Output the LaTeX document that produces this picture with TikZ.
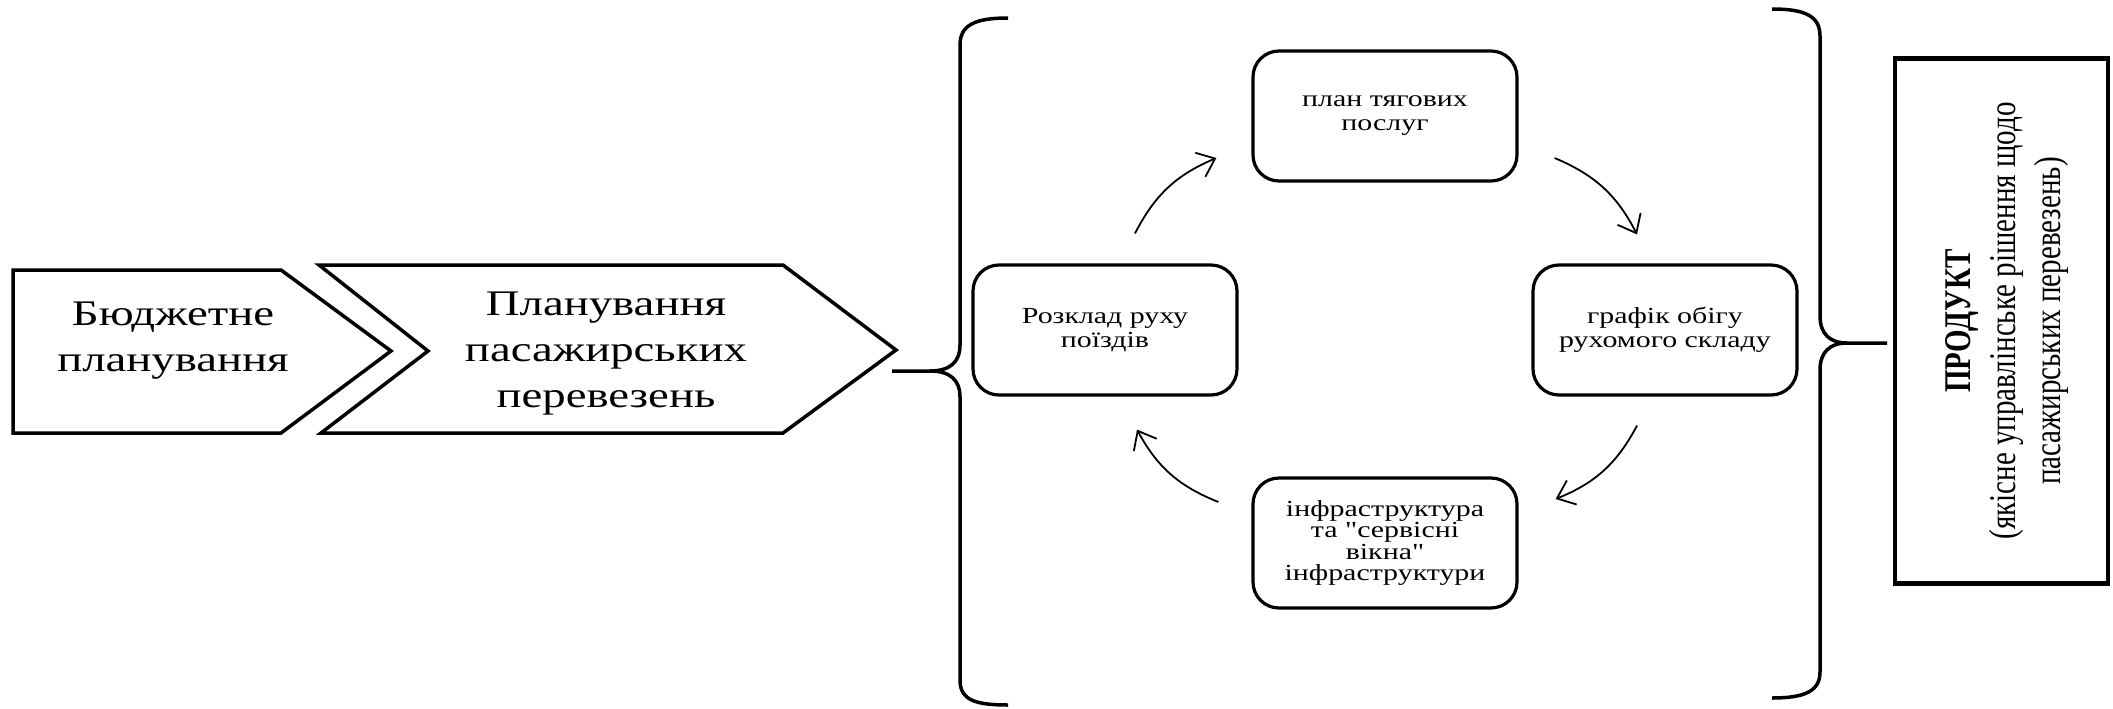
\documentclass[tikz,border=0pt]{standalone}
\usepackage{fontspec}
\setmainfont{Liberation Serif}
\newfontfamily\hf[FakeStretch=1.3]{Liberation Serif}
\newfontfamily\vf[FakeStretch=0.77]{Liberation Serif}
\usetikzlibrary{arrows.meta}
\begin{document}
\begin{tikzpicture}[x=1pt,y=-1pt,
  chev/.style={line width=3.5pt},
  rbox/.style={draw, line width=3.2pt, rounded corners=26pt, minimum width=264pt, minimum height=130pt, align=center, font=\hf\fontsize{23}{24}\selectfont, inner sep=0pt},
  brc/.style={line width=3.5pt},
  arr/.style={line width=1.8pt, -{Straight Barb[length=16pt,width=26pt,line width=1.8pt]}},
  ctext/.style={align=center, font=\hf\fontsize{36}{46}\selectfont, inner sep=0pt},
  pbox/.style={draw, line width=4.5pt, minimum width=213pt, minimum height=525pt, inner sep=0pt},
  ptext/.style={rotate=90, align=center, font=\vf\fontsize{37.7}{45}\selectfont, inner sep=0pt}
]
\useasboundingbox (0,0) rectangle (2113,709);
% chevrons
\draw[chev] (13,270) -- (281,270) -- (391,351) -- (281,433) -- (13,433) -- cycle;
\draw[chev] (319,265) -- (783,265) -- (896,350) -- (783,433) -- (321,433) -- (428,351) -- cycle;
\node[ctext] (c1) at (173,341) {Бюджетне\\планування};
\node[ctext] (c2) at (606,354) {Планування\\пасажирських\\перевезень};
% left brace
\draw[brc] (1008,18) .. controls (975,18) and (960,25) .. (960,45) -- (960,345) .. controls (960,362) and (950,371) .. (930,371) -- (892,371);
\draw[brc] (930,371) .. controls (950,371) and (960,380) .. (960,397) -- (960,680) .. controls (960,700) and (975,705) .. (1008,705);
% right brace
\draw[brc] (1772,9) .. controls (1805,9) and (1820,16) .. (1820,36) -- (1820,316) .. controls (1820,334) and (1830,343) .. (1847,343) -- (1887,343);
\draw[brc] (1847,343) .. controls (1830,343) and (1820,352) .. (1820,370) -- (1820,672) .. controls (1820,691) and (1805,698) .. (1772,698);
% cycle boxes
\node[rbox] (T) at (1385,116) {план тягових\\послуг};
\node[rbox] (L) at (1105,330) {Розклад руху\\поїздів};
\node[rbox] (R) at (1665,330) {графік обігу\\рухомого складу};
\node[rbox, font=\hf\fontsize{23}{21.5}\selectfont] (B) at (1385,543) {інфраструктура\\та "сервісні\\вікна"\\інфраструктури};
% arrows
\draw[arr] ([shift={(30,-30)}]L.north) to[bend left=20] ([shift={(-35,42)}]T.west);
\draw[arr] ([shift={(36,42)}]T.east) to[bend left=20] ([shift={(-28,-29)}]R.north);
\draw[arr] ([shift={(-28,29)}]R.south) to[bend left=20] ([shift={(37,-44)}]B.east);
\draw[arr] ([shift={(-33,-41)}]B.west) to[bend left=20] ([shift={(32,33)}]L.south);
% product
\node[pbox] (PB) at (2001.5,321) {};
\node[ptext] (P) at ([xshift=6]PB.center) {{\bfseries ПРОДУКТ}\\(якісне управлінське рішення щодо\\пасажирських перевезень)};
\end{tikzpicture}
\end{document}
